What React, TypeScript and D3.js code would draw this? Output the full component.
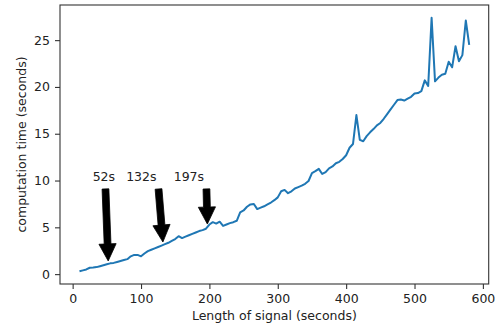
import React, { useEffect, useRef } from "react";
import * as d3 from "d3";

// signal lengths (s), sampled every 5 seconds
const lengths = d3.range(10, 581, 5);

// computation time (s), one per length
const times = [
  0.3, 0.4, 0.5, 0.68, 0.7, 0.75, 0.85, 0.95, 1.05, 1.15,
  1.2, 1.3, 1.4, 1.5, 1.6, 1.9, 2.05, 2.05, 1.9, 2.2,
  2.45, 2.6, 2.75, 2.9, 3.05, 3.2, 3.35, 3.55, 3.75, 4.05,
  3.85, 4.0, 4.15, 4.3, 4.45, 4.6, 4.7, 4.85, 5.3, 5.55,
  5.4, 5.6, 5.15, 5.3, 5.45, 5.55, 5.7, 6.6, 6.8, 7.2,
  7.45, 7.5, 6.95, 7.1, 7.25, 7.45, 7.65, 7.9, 8.2, 8.85,
  9.0, 8.65, 8.85, 9.15, 9.3, 9.45, 9.65, 9.95, 10.8, 11.0,
  11.25, 10.7, 10.9, 11.3, 11.5, 11.85, 12.0, 12.3, 12.7, 13.5,
  13.9, 17.0, 14.35, 14.2, 14.75, 15.15, 15.5, 15.9, 16.15, 16.6,
  17.1, 17.6, 18.1, 18.6, 18.65, 18.55, 18.75, 18.95, 19.3, 19.35,
  19.55, 20.7, 20.1, 27.4, 20.6, 21.0, 21.3, 21.4, 22.7, 22.1,
  24.35, 22.75, 23.4, 27.1, 24.5,
];

const xTicks = [0, 100, 200, 300, 400, 500, 600];
const yTicks = [0, 5, 10, 15, 20, 25];

// annotations: label, target x, text centre x, arrow start x (data units)
const annLabels = ["52s", "132s", "197s"];
const annTargets = [52, 132, 197];
const annTextX = [45.7, 100.5, 170];
const annStartX = [48, 125.6, 195.7];
const annTextY = 9.9;
const annStartY = 9.1;

const W = 496;
const H = 329;
const box = { left: 60, right: 488.7, top: 5, bottom: 284 };
const FONT = "'DejaVu Sans', sans-serif";

const data = lengths.map((x, i) => ({ x, y: times[i] }));

const arrowPath = (x0: number, y0: number, x1: number, y1: number) => {
  const dx = x1 - x0;
  const dy = y1 - y0;
  const len = Math.hypot(dx, dy);
  const ux = dx / len;
  const uy = dy / len;
  const nx = -uy;
  const ny = ux;
  const sw = 3.4; // half shaft width
  const hw = 8.6; // half head width
  const hl = 17; // head length
  const bx = x1 - ux * hl;
  const by = y1 - uy * hl;
  const pts = [
    [x0 + nx * sw, y0 + ny * sw],
    [bx + nx * sw, by + ny * sw],
    [bx + nx * hw, by + ny * hw],
    [x1, y1],
    [bx - nx * hw, by - ny * hw],
    [bx - nx * sw, by - ny * sw],
    [x0 - nx * sw, y0 - ny * sw],
  ];
  return "M" + pts.map((p) => p.join(",")).join("L") + "Z";
};

const App = () => {
  const xAxisRef = useRef<SVGGElement>(null);
  const yAxisRef = useRef<SVGGElement>(null);

  const xScale = d3.scaleLinear().domain([-18.5, 608.5]).range([box.left, box.right]);
  const yScale = d3.scaleLinear().domain([-1.055, 28.755]).range([box.bottom, box.top]);

  const line = d3
    .line<{ x: number; y: number }>()
    .x((d) => xScale(d.x))
    .y((d) => yScale(d.y));

  const valueAt = (x: number) => {
    const i = d3.bisector((d: { x: number }) => d.x).left(data, x);
    const a = data[Math.max(0, i - 1)];
    const b = data[Math.min(data.length - 1, i)];
    if (a.x === b.x) return a.y;
    return a.y + ((b.y - a.y) * (x - a.x)) / (b.x - a.x);
  };

  useEffect(() => {
    const styleAxis = (g: d3.Selection<SVGGElement, unknown, null, undefined>) => {
      g.select(".domain").remove();
      g.selectAll("line").attr("stroke", "#333").attr("stroke-width", 1.1);
      g.selectAll("text")
        .attr("fill", "#222")
        .style("font-family", FONT)
        .style("font-size", "12.5px");
    };
    d3.select(xAxisRef.current!)
      .call(d3.axisBottom(xScale).tickValues(xTicks).tickSize(5).tickPadding(5).tickFormat(d3.format("d")))
      .call(styleAxis);
    d3.select(yAxisRef.current!)
      .call(d3.axisLeft(yScale).tickValues(yTicks).tickSize(5).tickPadding(5).tickFormat(d3.format("d")))
      .call(styleAxis);
  }, []);

  return (
    <div style={{ position: "fixed", left: 0, top: 0 }}>
      <svg width={W} height={H} style={{ display: "block", background: "#fff" }}>
        <path
          d={line(data) ?? ""}
          fill="none"
          stroke="#1f77b4"
          strokeWidth={2}
          strokeLinejoin="round"
        />
        {annLabels.map((label, i) => {
          const tx = xScale(annTargets[i]);
          const ty = yScale(valueAt(annTargets[i])) - 3;
          const sx = xScale(annStartX[i]);
          const sy = yScale(annStartY);
          return (
            <g key={label}>
              <path d={arrowPath(sx, sy, tx, ty)} fill="#000" stroke="#000" strokeWidth={0.8} />
              <text
                x={xScale(annTextX[i])}
                y={yScale(annTextY)}
                textAnchor="middle"
                fontFamily={FONT}
                fontSize={12.5}
                fill="#222"
              >
                {label}
              </text>
            </g>
          );
        })}
        <rect
          x={box.left}
          y={box.top}
          width={box.right - box.left}
          height={box.bottom - box.top}
          fill="none"
          stroke="#333"
          strokeWidth={1.1}
        />
        <g ref={xAxisRef} transform={`translate(0,${box.bottom})`} />
        <g ref={yAxisRef} transform={`translate(${box.left},0)`} />
        <text
          x={(box.left + box.right) / 2}
          y={320}
          textAnchor="middle"
          fontFamily={FONT}
          fontSize={12.5}
          fill="#222"
        >
          Length of signal (seconds)
        </text>
        <text
          transform={`translate(26,${(box.top + box.bottom) / 2}) rotate(-90)`}
          textAnchor="middle"
          fontFamily={FONT}
          fontSize={12.5}
          fill="#222"
        >
          computation time (seconds)
        </text>
      </svg>
    </div>
  );
};

export default App;
